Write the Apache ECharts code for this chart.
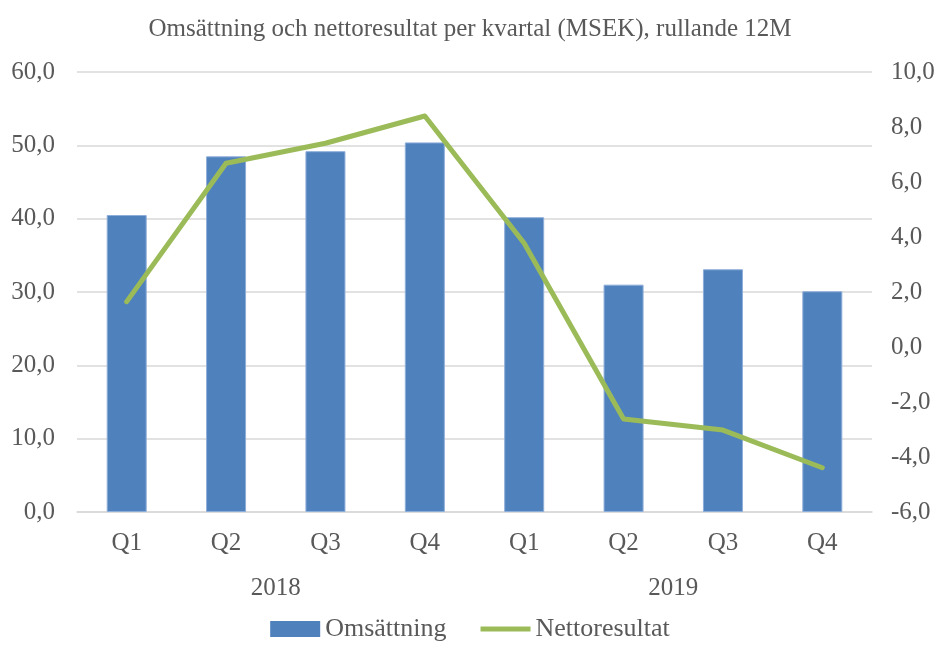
<!DOCTYPE html>
<html>
<head>
<meta charset="utf-8">
<script src="https://cdn.jsdelivr.net/npm/echarts@6/dist/echarts.min.js"></script>
<style>
  html, body { margin: 0; padding: 0; background: #fff; }
  #chart { width: 940px; height: 651px; }
</style>
</head>
<body>
<div id="chart"></div>
<script>
const quarters = ['Q1', 'Q2', 'Q3', 'Q4', 'Q1', 'Q2', 'Q3', 'Q4']
const years = ['2018', '2019']
const omsattning = [40.5, 48.5, 49.2, 50.4, 40.2, 31.0, 33.1, 30.1]
const nettoresultat = [1.65, 6.68, 7.41, 8.4, 3.77, -2.62, -3.02, -4.39]

const font = 'Liberation Serif'
const textColor = '#595959'
const fmt = v => v.toFixed(1).replace('.', ',')

const chart = echarts.init(document.getElementById('chart'))
chart.setOption({
  animation: false,
  textStyle: { fontFamily: font },
  title: {
    text: 'Omsättning och nettoresultat per kvartal (MSEK), rullande 12M',
    left: 'center',
    top: 12,
    textStyle: { fontFamily: font, fontSize: 25, fontWeight: 'normal', color: textColor }
  },
  legend: {
    bottom: 4,
    left: 'center',
    itemWidth: 50,
    itemHeight: 16,
    itemGap: 34,
    textStyle: { fontFamily: font, fontSize: 26, color: textColor },
    data: [
      { name: 'Omsättning', icon: 'rect', itemStyle: { borderWidth: 0 } },
      { name: 'Nettoresultat', icon: 'path://M0,0 H50 V5 H0 Z', itemStyle: { color: '#9BBB59' } }
    ]
  },
  grid: { left: 77, right: 68, top: 72, bottom: 139 },
  xAxis: [
    {
      type: 'category',
      data: quarters,
      axisLine: { lineStyle: { color: '#D9D9D9', width: 1.5 } },
      axisTick: { show: false },
      axisLabel: { margin: 19, fontSize: 25, color: textColor, fontFamily: font }
    },
    {
      type: 'category',
      data: years,
      position: 'bottom',
      offset: 45,
      axisLine: { show: false },
      axisTick: { show: false },
      axisLabel: { margin: 19, fontSize: 25, color: textColor, fontFamily: font }
    }
  ],
  yAxis: [
    {
      type: 'value',
      min: 0,
      max: 60,
      interval: 10,
      axisLine: { show: false },
      axisTick: { show: false },
      splitLine: { lineStyle: { color: '#D9D9D9', width: 1.5 } },
      axisLabel: { margin: 22, fontSize: 25, color: textColor, fontFamily: font, formatter: fmt }
    },
    {
      type: 'value',
      min: -6,
      max: 10,
      interval: 2,
      axisLine: { show: false },
      axisTick: { show: false },
      splitLine: { show: false },
      axisLabel: { margin: 19, fontSize: 25, color: textColor, fontFamily: font, formatter: fmt }
    }
  ],
  series: [
    {
      name: 'Omsättning',
      type: 'bar',
      xAxisIndex: 0,
      yAxisIndex: 0,
      barWidth: 40,
      itemStyle: { color: '#4F81BD', borderColor: '#8EAEDA', borderWidth: 1 },
      data: omsattning
    },
    {
      name: 'Nettoresultat',
      type: 'line',
      xAxisIndex: 0,
      yAxisIndex: 1,
      symbol: 'none',
      lineStyle: { color: '#9BBB59', width: 5, cap: 'round', join: 'round' },
      itemStyle: { color: '#9BBB59' },
      data: nettoresultat,
      z: 3
    }
  ]
})
</script>
</body>
</html>
